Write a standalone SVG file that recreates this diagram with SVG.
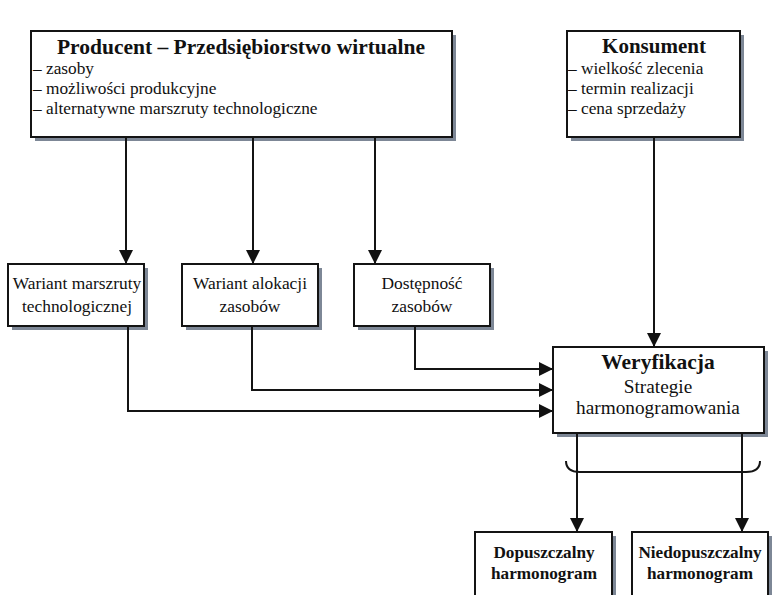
<svg xmlns="http://www.w3.org/2000/svg" width="784" height="595" viewBox="0 0 784 595">
  <style>
    .shadow { fill: #7d8796; }
    .box { fill: #ffffff; stroke: #141414; stroke-width: 2; }
    .t { font-family: "Liberation Serif", "Times New Roman", serif; fill: #111; }
    .title { font-weight: bold; font-size: 21.5px; text-anchor: middle; }
    .item { font-size: 17.3px; }
    .mid { font-size: 17.4px; text-anchor: middle; }
    .sub { font-size: 19.3px; text-anchor: middle; }
    .res { font-weight: bold; font-size: 17.2px; text-anchor: middle; }
    .line { fill: none; stroke: #141414; stroke-width: 2; }
  </style>
  <defs>
    <marker id="arrow" markerUnits="userSpaceOnUse" markerWidth="14" markerHeight="16" viewBox="0 0 14 16" refX="14" refY="7" orient="auto">
      <path d="M0,0 L14,7 L0,14 Z" fill="#111"/>
    </marker>
  </defs>
  <rect width="784" height="595" fill="#ffffff"/>

  <g id="producent">
    <rect class="shadow" x="35" y="35" width="421" height="106"/>
    <rect class="box" x="31" y="31" width="421" height="106"/>
    <text class="t title" x="241" y="54">Producent – Przedsiębiorstwo wirtualne</text>
    <text class="t item" x="33" y="74">– zasoby</text>
    <text class="t item" x="33" y="94">– możliwości produkcyjne</text>
    <text class="t item" x="33" y="114">– alternatywne marszruty technologiczne</text>
  </g>

  <g id="konsument">
    <rect class="shadow" x="571" y="35" width="173" height="106"/>
    <rect class="box" x="567" y="31" width="173" height="106"/>
    <text class="t title" x="654" y="53" style="font-size:21px">Konsument</text>
    <text class="t item" x="568" y="74">– wielkość zlecenia</text>
    <text class="t item" x="568" y="94">– termin realizacji</text>
    <text class="t item" x="568" y="114">– cena sprzedaży</text>
  </g>

  <g id="wariant-marszruty">
    <rect class="shadow" x="12" y="268" width="136" height="62"/>
    <rect class="box" x="8" y="264" width="136" height="62"/>
    <text class="t mid" x="77" y="289">Wariant marszruty</text>
    <text class="t mid" x="77" y="312">technologicznej</text>
  </g>

  <g id="wariant-alokacji">
    <rect class="shadow" x="186" y="268" width="136" height="62"/>
    <rect class="box" x="182" y="264" width="136" height="62"/>
    <text class="t mid" x="250" y="289">Wariant alokacji</text>
    <text class="t mid" x="250" y="312">zasobów</text>
  </g>

  <g id="dostepnosc">
    <rect class="shadow" x="358" y="268" width="136" height="62"/>
    <rect class="box" x="354" y="264" width="136" height="62"/>
    <text class="t mid" x="422" y="289">Dostępność</text>
    <text class="t mid" x="422" y="312">zasobów</text>
  </g>

  <g id="weryfikacja">
    <rect class="shadow" x="557" y="351" width="211" height="86"/>
    <rect class="box" x="553" y="347" width="211" height="86"/>
    <text class="t title" x="658" y="369">Weryfikacja</text>
    <text class="t sub" x="658" y="393">Strategie</text>
    <text class="t sub" x="658" y="414">harmonogramowania</text>
  </g>

  <g id="dopuszczalny">
    <rect class="shadow" x="479" y="536" width="137" height="70"/>
    <rect class="box" x="475" y="532" width="137" height="70"/>
    <text class="t res" x="544" y="558">Dopuszczalny</text>
    <text class="t res" x="544" y="579">harmonogram</text>
  </g>

  <g id="niedopuszczalny">
    <rect class="shadow" x="636" y="536" width="136" height="70"/>
    <rect class="box" x="632" y="532" width="136" height="70"/>
    <text class="t res" x="700" y="558">Niedopuszczalny</text>
    <text class="t res" x="700" y="579">harmonogram</text>
  </g>

  <g id="connectors">
    <!-- producer to the three variant boxes -->
    <path class="line" d="M126,137 V264" marker-end="url(#arrow)"/>
    <path class="line" d="M253,137 V264" marker-end="url(#arrow)"/>
    <path class="line" d="M375,137 V264" marker-end="url(#arrow)"/>
    <!-- consumer to verification -->
    <path class="line" d="M654,137 V347" marker-end="url(#arrow)"/>
    <!-- variants into verification -->
    <path class="line" d="M415,326 V369 H553" marker-end="url(#arrow)"/>
    <path class="line" d="M252,326 V390 H553" marker-end="url(#arrow)"/>
    <path class="line" d="M128,326 V411 H553" marker-end="url(#arrow)"/>
    <!-- verification outcomes -->
    <path class="line" d="M577,433 V532" marker-end="url(#arrow)"/>
    <path class="line" d="M742,433 V532" marker-end="url(#arrow)"/>
    <!-- bracket grouping the outcomes -->
    <path class="line" d="M566,461 Q566,472 580,472 H746 Q760,472 760,461"/>
  </g>
</svg>
